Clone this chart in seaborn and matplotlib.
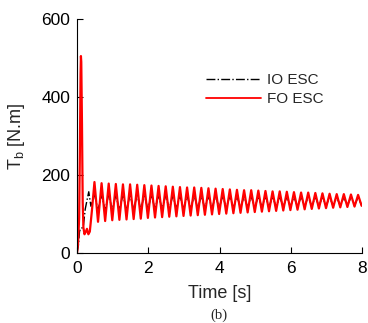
import numpy as np
import pandas as pd
import matplotlib
matplotlib.use("Agg")
import matplotlib.pyplot as plt
import seaborn as sns

# ---- data ----
# initial transients
fo_t0 = [0.0, 0.03, 0.06, 0.08, 0.10, 0.11, 0.12, 0.14, 0.16, 0.18, 0.21, 0.25, 0.28, 0.32, 0.36, 0.42]
fo_v0 = [0, 25, 90, 250, 460, 505, 490, 330, 130, 65, 48, 55, 62, 48, 55, 110]
io_t0 = [0.0, 0.04, 0.07, 0.10, 0.14, 0.18, 0.23, 0.28, 0.33, 0.39]
io_v0 = [0, 20, 55, 63, 64, 70, 112, 135, 157, 120]

# oscillation extrema (peak/trough times)
peak_t = [0.49, 0.69, 0.89, 1.09, 1.29, 1.49, 1.69, 1.89, 2.09, 2.29, 2.49, 2.69, 2.89,
          3.09, 3.29, 3.49, 3.69, 3.89, 4.09, 4.29, 4.49, 4.69, 4.89, 5.09, 5.29, 5.49,
          5.69, 5.89, 6.09, 6.29, 6.49, 6.69, 6.89, 7.09, 7.29, 7.49, 7.69, 7.89]
trough_t = [0.59, 0.79, 0.99, 1.19, 1.39, 1.59, 1.79, 1.99, 2.19, 2.39, 2.59, 2.79, 2.99,
            3.19, 3.39, 3.59, 3.79, 3.99, 4.19, 4.39, 4.59, 4.79, 4.99, 5.19, 5.39, 5.59,
            5.79, 5.99, 6.19, 6.39, 6.59, 6.79, 6.99, 7.19, 7.39, 7.59, 7.79, 7.99]
fo_peaks = [182, 179, 178, 177, 176, 176, 175, 174, 173, 172, 171, 170, 169,
            168, 168, 167, 166, 165, 164, 163, 162, 161, 161, 160, 159, 158,
            158, 157, 156, 155, 155, 154, 153, 152, 151, 151, 150, 149]
fo_troughs = [80, 82, 84, 85, 86, 87, 88, 90, 91, 92, 93, 94, 95,
              96, 97, 98, 99, 100, 101, 102, 103, 104, 105, 106, 107, 108,
              109, 110, 111, 112, 113, 114, 115, 116, 117, 118, 119, 121]
io_peaks = [150, 150, 150, 149, 149, 149, 149, 148, 148, 148, 148, 147, 147,
            147, 147, 146, 146, 146, 146, 146, 145, 145, 145, 145, 145, 145,
            144, 144, 144, 144, 144, 144, 144, 143, 143, 143, 143, 143]
io_troughs = [110, 110, 111, 111, 111, 112, 112, 112, 113, 113, 113, 114, 114,
              114, 115, 115, 115, 116, 116, 116, 117, 117, 117, 118, 118, 118,
              119, 119, 119, 120, 120, 120, 121, 121, 121, 122, 122, 122]

x_ticks = [0, 2, 4, 6, 8]
y_ticks = [0, 200, 400, 600]


def build(t0, v0, pk, tr):
    t = list(t0)
    v = list(v0)
    for a, b, c, d in zip(peak_t, pk, trough_t, tr):
        t += [a, c]
        v += [b, d]
    return t, v


fo_t, fo_v = build(fo_t0, fo_v0, fo_peaks, fo_troughs)
io_t, io_v = build(io_t0, io_v0, io_peaks, io_troughs)

df_io = pd.DataFrame({"t": io_t, "v": io_v})
df_fo = pd.DataFrame({"t": fo_t, "v": fo_v})

sns.set_style("ticks")
plt.rcParams["font.family"] = ["Liberation Sans", "DejaVu Sans"]
plt.rcParams["xtick.direction"] = "in"
plt.rcParams["ytick.direction"] = "in"

fig = plt.figure(figsize=(3.68, 3.23), dpi=100)
ax = fig.add_axes([77 / 368, 1 - 253 / 323, (362 - 77) / 368, (253 - 19) / 323])

sns.lineplot(data=df_io, x="t", y="v", ax=ax, color="black", linestyle="-.",
             linewidth=1.0, sort=False, estimator=None, label="IO ESC")
sns.lineplot(data=df_fo, x="t", y="v", ax=ax, color="#ff0000", linestyle="-",
             linewidth=1.6, sort=False, estimator=None, label="FO ESC")
for ln in ax.lines:
    ln.set_solid_joinstyle("round")
    ln.set_dash_joinstyle("round")

ax.set_xlim(0, 8)
ax.set_ylim(0, 600)
ax.set_xticks(x_ticks)
ax.set_yticks(y_ticks)
ax.tick_params(axis="both", labelsize=12.5, length=4, width=0.8, colors="black")
ax.tick_params(axis="x", pad=6)
ax.tick_params(axis="y", pad=5)
for s in ["top", "right"]:
    ax.spines[s].set_visible(False)
for s in ["left", "bottom"]:
    ax.spines[s].set_linewidth(0.8)
    ax.spines[s].set_color("black")

ax.set_xlabel("Time [s]", fontsize=13, labelpad=6)
ax.set_ylabel(r"T$_\mathregular{b}$ [N.m]", fontsize=13, labelpad=10)

leg = ax.legend(loc="upper left", bbox_to_anchor=(0.43, 0.795), frameon=False,
                fontsize=11, handlelength=3.6, handletextpad=0.4,
                labelspacing=0.35, borderaxespad=0)
for h in leg.get_lines():
    h.set_linewidth(1.3 if h.get_color() == "#ff0000" else 1.0)

fig.text(219 / 368, 1 - 315 / 323, "(b)", family=["Liberation Serif", "DejaVu Serif"],
         fontsize=10.5, ha="center", va="center")

fig.savefig("out.png", dpi=100)
